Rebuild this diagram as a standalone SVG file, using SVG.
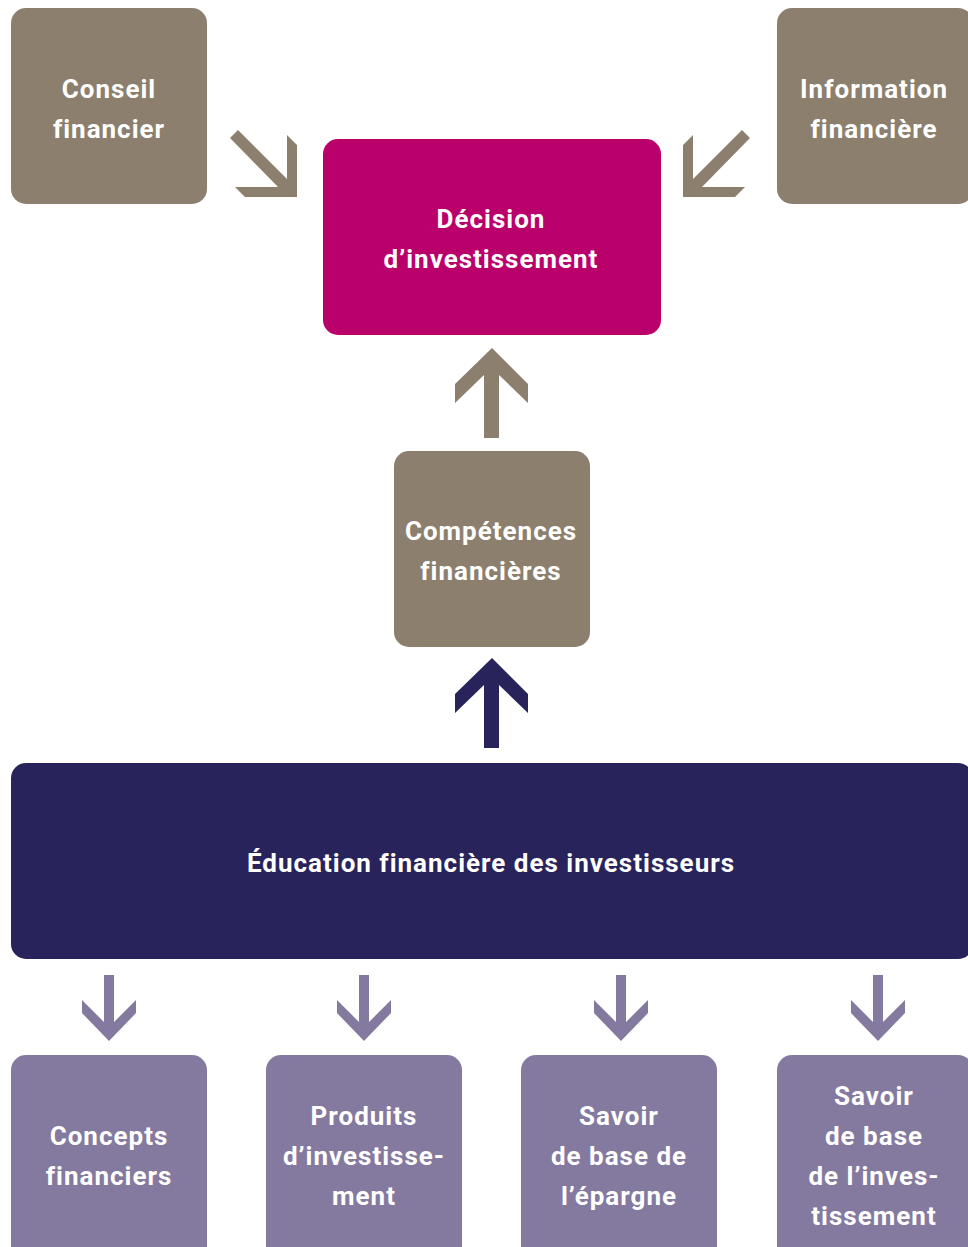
<svg xmlns="http://www.w3.org/2000/svg" width="968" height="1247" viewBox="0 0 968 1247">
<style>
.brown{fill:#8c7f6e}
.mag{fill:#b9006b}
.navy{fill:#29235c}
.purple{fill:#84799f}
.t{font-family:Roboto,"Liberation Sans",sans-serif;font-weight:bold;font-size:26px;fill:#ffffff;text-anchor:middle;letter-spacing:1px}
</style>
<rect width="968" height="1247" fill="#ffffff"/>
<g id="connectors">
<polygon class="brown" points="238,130 287,179 287,135 297,145 297,197 245,197 235,187 278,187 230,138"/>
<polygon class="brown" points="742,130 693,179 693,135 683,145 683,197 735,197 745,187 702,187 750,138"/>
<polygon class="brown" points="492,348 528,384 528,403 499,375 499,438 484,438 484,375 455,403 455,384"/>
<polygon class="navy" points="492,658 528,694 528,713 499,685 499,748 484,748 484,685 455,713 455,694"/>
<polygon class="purple" points="104,975 114,975 114,1022 136,1000 136,1013 109,1041 82,1013 82,1000 104,1022"/>
<polygon class="purple" points="359,975 369,975 369,1022 391,1000 391,1013 364,1041 337,1013 337,1000 359,1022"/>
<polygon class="purple" points="616,975 626,975 626,1022 648,1000 648,1013 621,1041 594,1013 594,1000 616,1022"/>
<polygon class="purple" points="873,975 883,975 883,1022 905,1000 905,1013 878,1041 851,1013 851,1000 873,1022"/>
</g>
<g id="conseil">
<rect class="brown" x="11" y="8" width="196" height="196" rx="15"/>
<text class="t" x="109" y="98">Conseil</text>
<text class="t" x="109" y="138">financier</text>
</g>
<g id="information">
<rect class="brown" x="777" y="8" width="196" height="196" rx="15"/>
<text class="t" x="874" y="98">Information</text>
<text class="t" x="874" y="138">financière</text>
</g>
<g id="decision">
<rect class="mag" x="323" y="139" width="338" height="196" rx="15"/>
<text class="t" x="491" y="228">Décision</text>
<text class="t" x="491" y="268">d’investissement</text>
</g>
<g id="competences">
<rect class="brown" x="394" y="451" width="196" height="196" rx="15"/>
<text class="t" x="491" y="540">Compétences</text>
<text class="t" x="491" y="580">financières</text>
</g>
<g id="education">
<rect class="navy" x="11" y="763" width="962" height="196" rx="15"/>
<text class="t" x="491" y="872">Éducation financière des investisseurs</text>
</g>
<g id="concepts">
<rect class="purple" x="11" y="1055" width="196" height="220" rx="15"/>
<text class="t" x="109" y="1145">Concepts</text>
<text class="t" x="109" y="1185">financiers</text>
</g>
<g id="produits">
<rect class="purple" x="266" y="1055" width="196" height="220" rx="15"/>
<text class="t" x="364" y="1125">Produits</text>
<text class="t" x="364" y="1165">d’investisse-</text>
<text class="t" x="364" y="1205">ment</text>
</g>
<g id="epargne">
<rect class="purple" x="521" y="1055" width="196" height="220" rx="15"/>
<text class="t" x="619" y="1125">Savoir</text>
<text class="t" x="619" y="1165">de base de</text>
<text class="t" x="619" y="1205">l’épargne</text>
</g>
<g id="investissement">
<rect class="purple" x="777" y="1055" width="196" height="220" rx="15"/>
<text class="t" x="874" y="1105">Savoir</text>
<text class="t" x="874" y="1145">de base</text>
<text class="t" x="874" y="1185">de l’inves-</text>
<text class="t" x="874" y="1225">tissement</text>
</g>
</svg>
